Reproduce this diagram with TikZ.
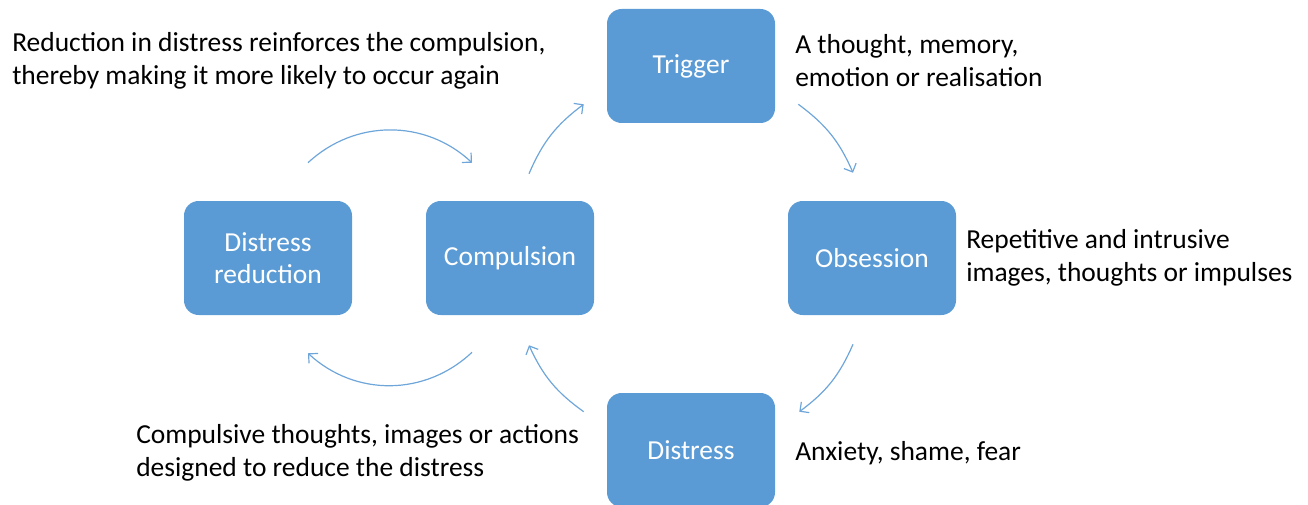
\documentclass[tikz,border=0pt]{standalone}
\usepackage{fontspec}
\setmainfont{Carlito}
\usetikzlibrary{positioning,arrows.meta}
\definecolor{boxblue}{HTML}{5B9BD5}
\definecolor{arcblue}{HTML}{6FA6DA}

\begin{document}
\begin{tikzpicture}[x=0.75pt,y=0.75pt,
stage/.style={fill=boxblue, rounded corners=11pt, minimum width=126pt, minimum height=85.5pt, text=white, align=center, font=\fontsize{20.6}{24.5}\selectfont},
note/.style={anchor=west, align=left, inner sep=0pt, font=\fontsize{20.6}{24.5}\selectfont},
cycle/.style={arcblue, line width=0.9pt, -{Straight Barb[length=5pt,width=10pt]}},
node distance=144pt and 135.75pt, on grid]
\useasboundingbox (0,0) rectangle (1308,504);
\node[stage] (trigger) at (691,438) {Trigger};
\node[stage, below right=of trigger] (obsession) {Obsession};
\node[stage, below left=of trigger] (compulsion) {Compulsion};
\node[stage, below=288pt of trigger] (distress) {Distress};
\node[stage, left=181.5pt of compulsion] (reduction) {Distress\\reduction};
\node[note] (reinforce) at (12,443.5) {Reduction in distress reinforces the compulsion,\\thereby making it more likely to occur again};
\node[note] (thought) at (795,443.5) {A thought, memory,\\emotion or realisation};
\node[note] (intrusive) at (966,246) {Repetitive and intrusive\\images, thoughts or impulses};
\node[note] (anxiety) at (795,51) {Anxiety, shame, fear};
\node[note] (actions) at (136,51) {Compulsive thoughts, images or actions\\designed to reduce the distress};
\draw[cycle] ([shift={(19,27)}]compulsion.north) to[bend left=15] ([shift={(-23,19)}]trigger.south west);
\draw[cycle] ([shift={(23,19)}]trigger.south east) to[bend left=15] ([shift={(-19,28)}]obsession.north);
\draw[cycle] ([shift={(-19,-29)}]obsession.south) to[bend left=15] ([shift={(24,-19)}]distress.north east);
\draw[cycle] ([shift={(-23,-19)}]distress.north west) to[bend left=15] ([shift={(19,-30)}]compulsion.south);
\draw[cycle] ([shift={(40,38)}]reduction.north) to[bend left=43] ([shift={(-38,38)}]compulsion.north);
\draw[cycle] ([shift={(-38,-37)}]compulsion.south) to[bend left=43] ([shift={(40,-38)}]reduction.south);
\end{tikzpicture}
\end{document}
